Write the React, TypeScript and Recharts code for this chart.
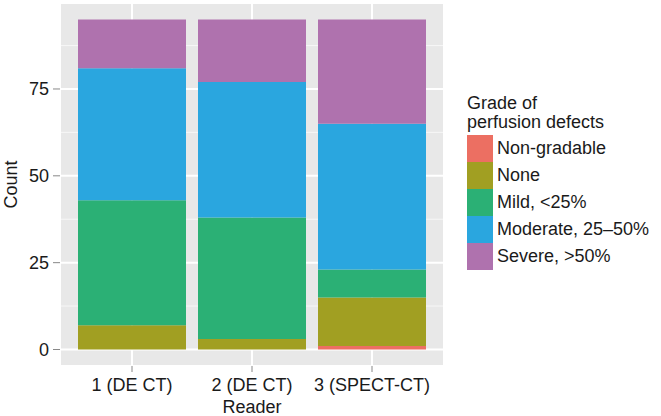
import React from 'react';
import { BarChart, Bar, XAxis, YAxis, CartesianGrid, Legend } from 'recharts';

const readers = ['1 (DE CT)', '2 (DE CT)', '3 (SPECT-CT)'];
const nonGradable = [0, 0, 1];
const none = [7, 3, 14];
const mild = [36, 35, 8];
const moderate = [38, 39, 42];
const severe = [14, 18, 30];

const seriesNames = ['Non-gradable', 'None', 'Mild, <25%', 'Moderate, 25–50%', 'Severe, >50%'];
const seriesKeys = ['nonGradable', 'none', 'mild', 'moderate', 'severe'];
const seriesColors = ['#EC6F62', '#A19F22', '#2BB075', '#2AA6DF', '#AF72AE'];
const legendTitle = ['Grade of', 'perfusion defects'];

const yTicks = [0, 25, 50, 75];
const yMinor = [12.5, 37.5, 62.5, 87.5];
const yDomain = [-4.75, 99.75];

const data = readers.map((r, i) => ({
  reader: r,
  nonGradable: nonGradable[i],
  none: none[i],
  mild: mild[i],
  moderate: moderate[i],
  severe: severe[i],
}));

const FONT = '"Liberation Sans", Arial, Helvetica, sans-serif';

const renderLegend = () => {
  return (
    <div style={{ fontFamily: FONT, fontSize: 18, color: '#1a1a1a' }}>
      {legendTitle.map((t) => (
        <div key={t} style={{ height: 19, lineHeight: '19px', whiteSpace: 'nowrap' }}>{t}</div>
      ))}
      <div style={{ height: 3 }} />
      {seriesNames.map((name, i) => (
        <div key={name} style={{ display: 'flex', alignItems: 'center', height: 27 }}>
          <div style={{ width: 26, height: 27, background: seriesColors[i], marginRight: 4 }} />
          <span style={{ whiteSpace: 'nowrap' }}>{name}</span>
        </div>
      ))}
    </div>
  );
};

const renderYLabel = (props: any) => {
  const vb = props.viewBox || {};
  const x = vb.x + 17;
  const y = vb.y + vb.height / 2;
  return (
    <text x={x} y={y} transform={`rotate(-90, ${x}, ${y})`} textAnchor="middle" fontFamily={FONT} fontSize={18} fill="#1a1a1a">
      Count
    </text>
  );
};

export default function App() {
  return (
    <div style={{ position: 'absolute', left: 0, top: 0, background: '#fff' }}>
      <BarChart
        width={661}
        height={416}
        data={data}
        margin={{ top: 3, right: 217, bottom: 0, left: 0 }}
        barSize={108}
      >
        <CartesianGrid fill="#E8E8E8" stroke="#F7F7F7" strokeWidth={1} vertical={false} horizontalValues={yMinor} />
        <CartesianGrid stroke="#FFFFFF" strokeWidth={2} fill="none" />
        <XAxis
          dataKey="reader"
          padding={{ left: 12, right: 12 }}
          axisLine={false}
          tickLine={{ stroke: '#888888' }}
          tickSize={6}
          tickMargin={6}
          height={50}
          tick={{ fontFamily: FONT, fontSize: 18, fill: '#1a1a1a' }}
          interval={0}
          label={{ value: 'Reader', position: 'insideBottom', offset: 3, fontFamily: FONT, fontSize: 18, fill: '#1a1a1a' }}
        />
        <YAxis
          type="number"
          domain={yDomain}
          ticks={yTicks}
          allowDataOverflow
          width={60}
          axisLine={false}
          tickLine={{ stroke: '#888888' }}
          tickSize={7}
          tickMargin={4}
          tick={{ fontFamily: FONT, fontSize: 18, fill: '#1a1a1a' }}
          label={renderYLabel}
        />
        <Legend
          layout="vertical"
          align="center"
          verticalAlign="middle"
          content={renderLegend}
          wrapperStyle={{ left: 467, top: 94, width: 194 }}
        />
        {seriesKeys.map((k, i) => (
          <Bar key={k} dataKey={k} name={seriesNames[i]} stackId="a" fill={seriesColors[i]} isAnimationActive={false} />
        ))}
      </BarChart>
    </div>
  );
}
